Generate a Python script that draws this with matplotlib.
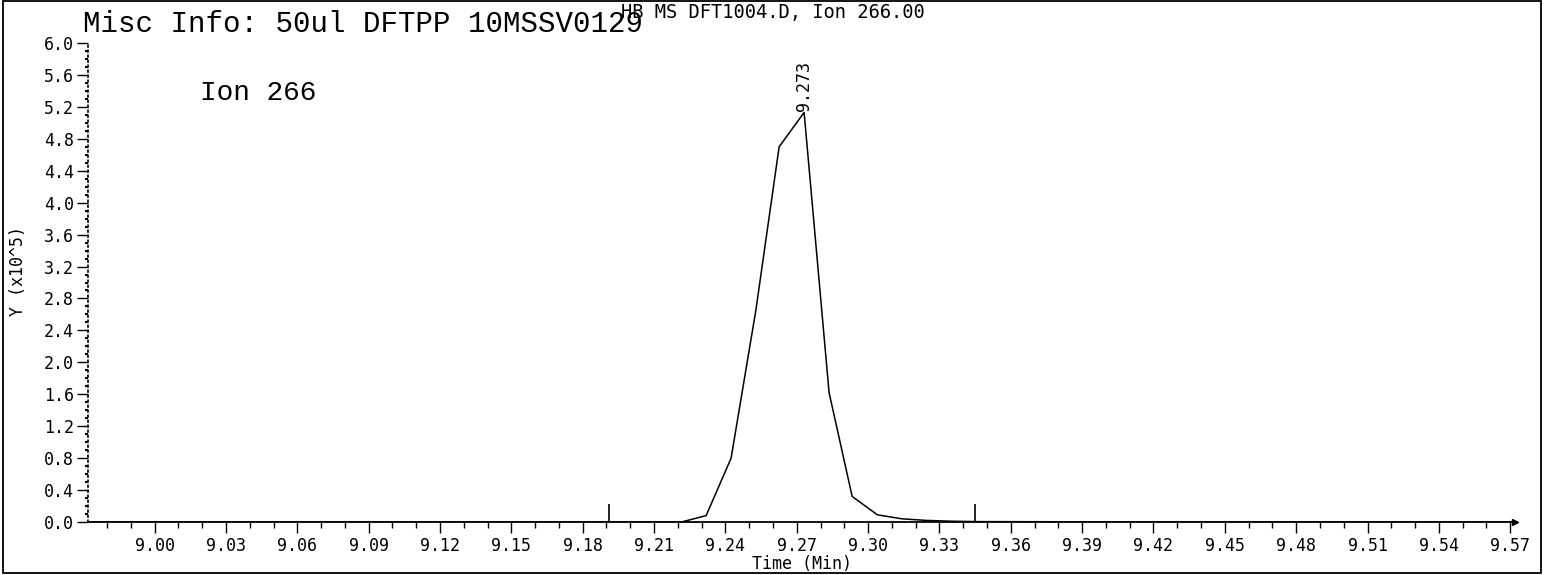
import numpy as np
import matplotlib.pyplot as plt
from matplotlib.patches import Rectangle
from matplotlib.ticker import MultipleLocator, FixedLocator

# extracted ion chromatogram, ion 266 (abundance in units of 1e5)
rt_min = [8.972, 9.2215, 9.2319, 9.2424, 9.2528, 9.2626, 9.2731, 9.2836,
          9.2933, 9.3039, 9.3142, 9.3245, 9.3349, 9.3449, 9.40, 9.572]
abund = [0.0, 0.0, 0.08, 0.80, 2.65, 4.70, 5.13, 1.62,
         0.32, 0.09, 0.04, 0.02, 0.01, 0.005, 0.002, 0.0]

peak_rt = 9.273
peak_label = "9.273"
marker_rt = [9.1909, 9.3449]
marker_h = 0.22

x_ticks = [round(9.00 + 0.03 * i, 2) for i in range(20)]
y_ticks = [round(0.4 * i, 1) for i in range(16)]

tick_font = "DejaVu Sans Mono"
head_font = "Liberation Mono"

fig = plt.figure(figsize=(15.45, 5.75), dpi=100)
ax = fig.add_axes([88 / 1545, 53 / 575, (1515 - 88) / 1545, (522 - 43) / 575])

ax.plot(rt_min, abund, color="black", lw=1.1)
ax.vlines(marker_rt, 0, marker_h, color="black", lw=1.2)
ax.annotate(peak_label, (peak_rt, max(abund)), xytext=(0, 1), textcoords="offset points",
            rotation=90, ha="center", va="bottom", fontsize=12, family=tick_font)

ax.set_xlim(8.972, 9.572)
ax.set_ylim(0, 6.0)

ax.xaxis.set_major_locator(FixedLocator(x_ticks))
ax.xaxis.set_minor_locator(MultipleLocator(0.01))
ax.yaxis.set_major_locator(FixedLocator(y_ticks))
ax.yaxis.set_minor_locator(MultipleLocator(0.1))
ax.set_xticklabels(["%.2f" % t for t in x_ticks])
ax.set_yticklabels(["%.1f" % t for t in y_ticks])
for lab in ax.get_xticklabels() + ax.get_yticklabels():
    lab.set_family(tick_font)
    lab.set_fontsize(12)

ax.tick_params(axis="x", which="major", direction="out", length=8, width=1, pad=3)
ax.tick_params(axis="x", which="minor", direction="out", length=4, width=1)
ax.tick_params(axis="y", which="major", direction="out", length=8, width=1, pad=2)
ax.tick_params(axis="y", which="minor", direction="out", length=2, width=1.5)

for s in ["top", "right"]:
    ax.spines[s].set_visible(False)
ax.spines["left"].set_linestyle((0, (1, 2)))
ax.spines["left"].set_linewidth(1.2)
ax.spines["bottom"].set_linewidth(1.3)
ax.plot(1, 0, ">", color="black", ms=5, transform=ax.transAxes, clip_on=False)

ax.set_xlabel("Time (Min)", family=tick_font, fontsize=12, labelpad=0)
ax.set_ylabel("Y (x10^5)", family=tick_font, fontsize=12)
ax.yaxis.set_label_coords(-0.0425, 0.525)

fig.text(83 / 1545, 1 - 32 / 575, "Misc Info: 50ul DFTPP 10MSSV0129",
         family=head_font, fontsize=21, va="baseline")
fig.text(621 / 1545, 1 - 18 / 575, "HB MS DFT1004.D, Ion 266.00",
         family=tick_font, fontsize=13.5, va="baseline")
fig.text(200 / 1545, 1 - 100 / 575, "Ion 266", family=head_font, fontsize=20, va="baseline")

fig.patches.append(Rectangle((3 / 1545, 2 / 575), 1538 / 1545, 572 / 575, fill=False,
                             lw=1.3, edgecolor="black", transform=fig.transFigure))

fig.savefig("out.png", dpi=100)
